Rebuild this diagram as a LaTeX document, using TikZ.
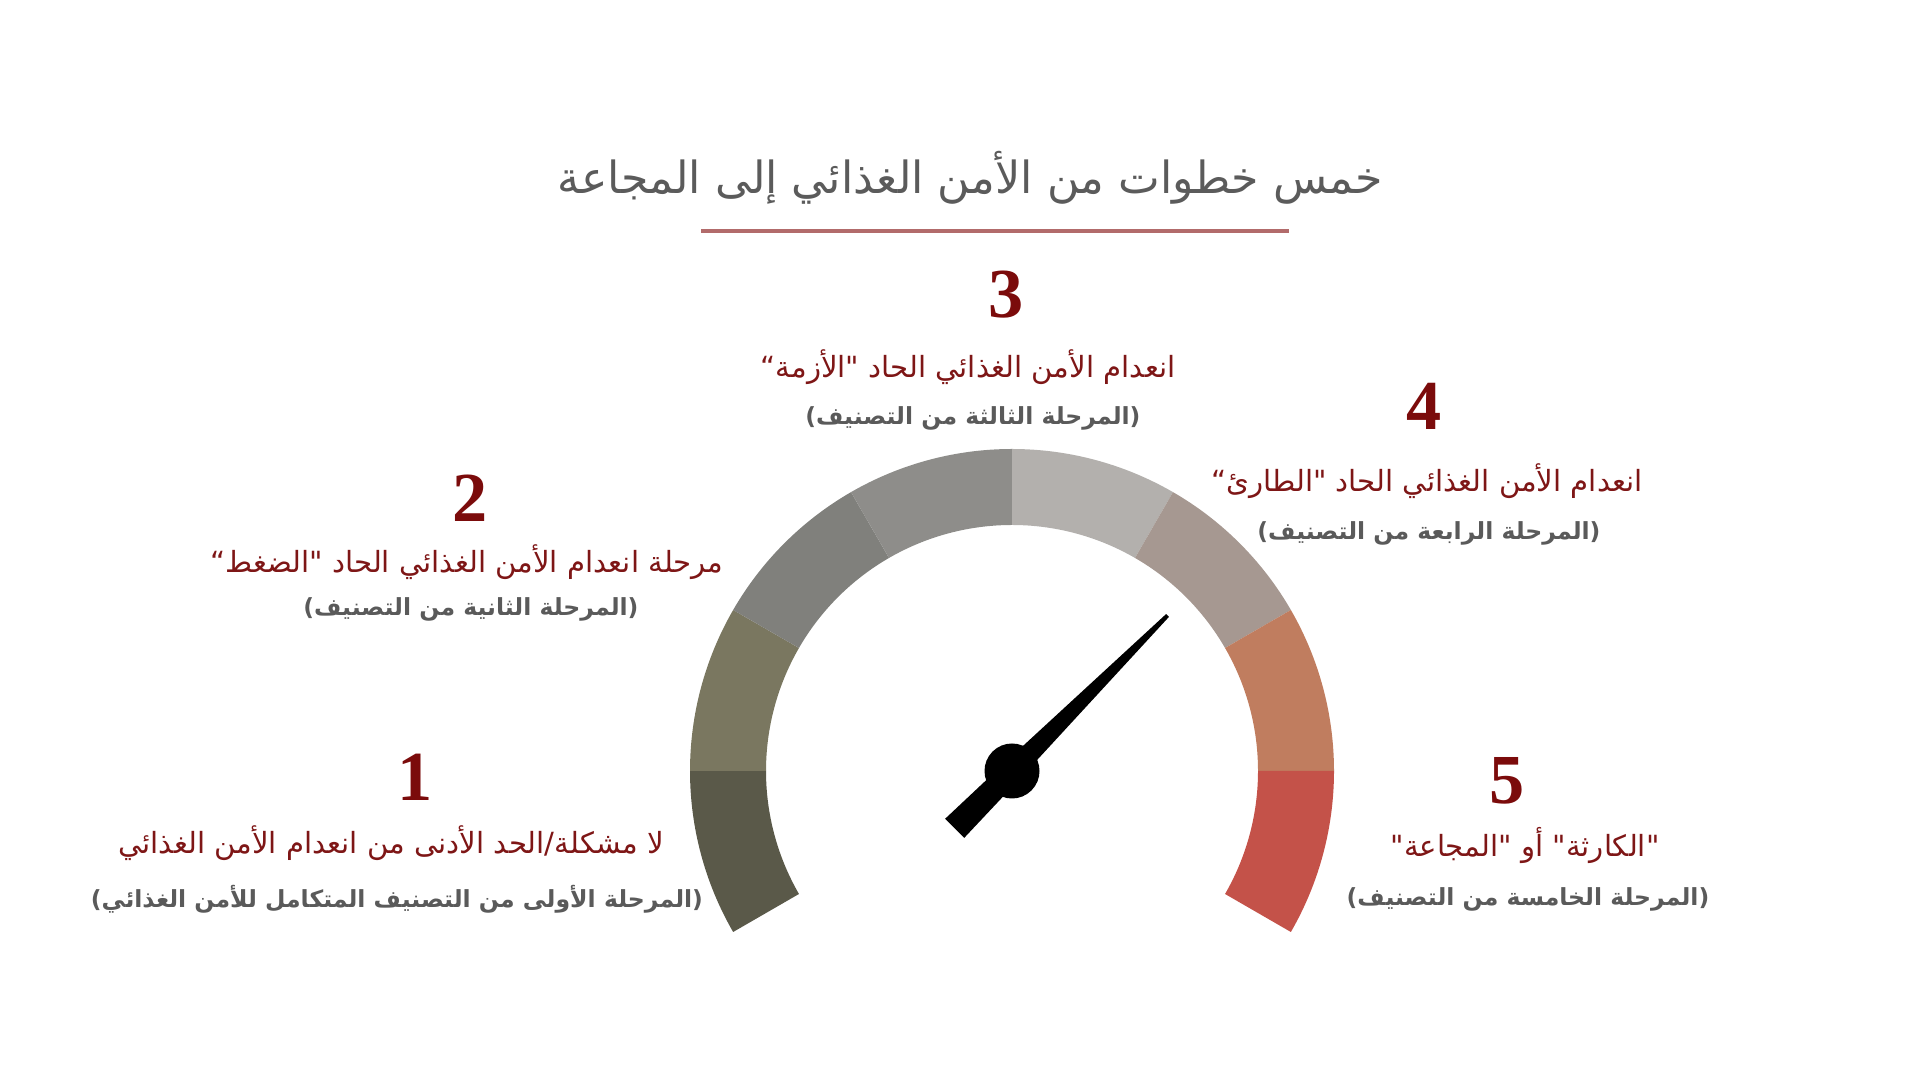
\documentclass[tikz,border=0pt]{standalone}
\usepackage{fontspec}
\usepackage{tikz}
\TeXXeTstate=1
\newfontfamily\arabicfont[Script=Arabic]{DejaVu Sans}
\newfontfamily\numfont{Liberation Serif}
\definecolor{titlegray}{RGB}{91, 91, 91}
\definecolor{linered}{RGB}{178, 107, 107}
\definecolor{numred}{RGB}{123, 11, 11}
\definecolor{stagered}{RGB}{126, 22, 22}
\definecolor{notegray}{RGB}{90, 90, 90}
\definecolor{segA}{RGB}{90, 89, 73}
\definecolor{segB}{RGB}{122, 119, 96}
\definecolor{segC}{RGB}{128, 128, 124}
\definecolor{segD}{RGB}{142, 141, 138}
\definecolor{segE}{RGB}{179, 176, 173}
\definecolor{segF}{RGB}{166, 152, 145}
\definecolor{segG}{RGB}{192, 125, 95}
\definecolor{segH}{RGB}{196, 82, 73}

\begin{document}
\begin{tikzpicture}[
    titletxt/.style={font=\arabicfont\fontsize{12.6}{15}\selectfont, text=titlegray, inner sep=0pt},
    numtxt/.style={font=\numfont\bfseries\fontsize{20}{24}\selectfont, text=numred, inner sep=0pt},
    redtxt/.style={font=\arabicfont\fontsize{8.3}{10}\selectfont, text=stagered, inner sep=0pt},
    graytxt/.style={font=\arabicfont\bfseries\fontsize{6.7}{8}\selectfont, text=notegray, inner sep=0pt}
]
\useasboundingbox (0,0) rectangle (19.2,10.8);

% Title
\node[titletxt] (title) at (9.70,9.02) {\beginR خمس خطوات من الأمن الغذائي إلى المجاعة\endR};
\draw[linered, line width=1.1pt] (7.01,8.49) -- (12.89,8.49);

% Gauge ring
\coordinate (C) at (10.12,3.09);
\fill[segA] ([shift={(210:3.22)}]C) arc[start angle=210, end angle=180, radius=3.22] -- ([shift={(180:2.46)}]C) arc[start angle=180, end angle=210, radius=2.46] -- cycle;
\fill[segB] ([shift={(180:3.22)}]C) arc[start angle=180, end angle=150, radius=3.22] -- ([shift={(150:2.46)}]C) arc[start angle=150, end angle=180, radius=2.46] -- cycle;
\fill[segC] ([shift={(150:3.22)}]C) arc[start angle=150, end angle=120, radius=3.22] -- ([shift={(120:2.46)}]C) arc[start angle=120, end angle=150, radius=2.46] -- cycle;
\fill[segD] ([shift={(120:3.22)}]C) arc[start angle=120, end angle=90, radius=3.22] -- ([shift={(90:2.46)}]C) arc[start angle=90, end angle=120, radius=2.46] -- cycle;
\fill[segE] ([shift={(90:3.22)}]C) arc[start angle=90, end angle=60, radius=3.22] -- ([shift={(60:2.46)}]C) arc[start angle=60, end angle=90, radius=2.46] -- cycle;
\fill[segF] ([shift={(60:3.22)}]C) arc[start angle=60, end angle=30, radius=3.22] -- ([shift={(30:2.46)}]C) arc[start angle=30, end angle=60, radius=2.46] -- cycle;
\fill[segG] ([shift={(30:3.22)}]C) arc[start angle=30, end angle=0, radius=3.22] -- ([shift={(0:2.46)}]C) arc[start angle=0, end angle=30, radius=2.46] -- cycle;
\fill[segH] ([shift={(0:3.22)}]C) arc[start angle=0, end angle=-30, radius=3.22] -- ([shift={(-30:2.46)}]C) arc[start angle=-30, end angle=0, radius=2.46] -- cycle;

% Needle
\begin{scope}[shift={(C)}, rotate=45]
  \fill[black] (2.20,0.02) -- (0,0.11) -- (-0.81,0.135) -- (-0.81,-0.135) -- (0,-0.11) -- (2.20,-0.02) -- cycle;
  \fill[black] (0,0) circle (0.275);
\end{scope}

% Stage 1
\node[numtxt] (n1) at (4.15,3.03) {1};
\node[redtxt] (s1) at (3.91,2.37) {\beginR لا مشكلة/الحد الأدنى من انعدام الأمن الغذائي\endR};
\node[graytxt] (g1) at (3.97,1.81) {\beginR (المرحلة الأولى من التصنيف المتكامل للأمن الغذائي)\endR};

% Stage 2
\node[numtxt] (n2) at (4.70,5.82) {2};
\node[redtxt] (s2) at (4.67,5.18) {\beginR مرحلة انعدام الأمن الغذائي الحاد "الضغط“\endR};
\node[graytxt] (g2) at (4.71,4.71) {\beginR (المرحلة الثانية من التصنيف)\endR};

% Stage 3
\node[numtxt] (n3) at (10.06,7.85) {3};
\node[redtxt] (s3) at (9.68,7.13) {\beginR انعدام الأمن الغذائي الحاد "الأزمة“\endR};
\node[graytxt] (g3) at (9.73,6.62) {\beginR (المرحلة الثالثة من التصنيف)\endR};

% Stage 4
\node[numtxt] (n4) at (14.24,6.74) {4};
\node[redtxt] (s4) at (14.27,5.99) {\beginR انعدام الأمن الغذائي الحاد "الطارئ“\endR};
\node[graytxt] (g4) at (14.29,5.47) {\beginR (المرحلة الرابعة من التصنيف)\endR};

% Stage 5
\node[numtxt] (n5) at (15.07,2.99) {5};
\node[redtxt] (s5) at (15.25,2.34) {\beginR "الكارثة" أو "المجاعة"\endR};
\node[graytxt] (g5) at (15.28,1.81) {\beginR (المرحلة الخامسة من التصنيف)\endR};
\end{tikzpicture}
\end{document}
